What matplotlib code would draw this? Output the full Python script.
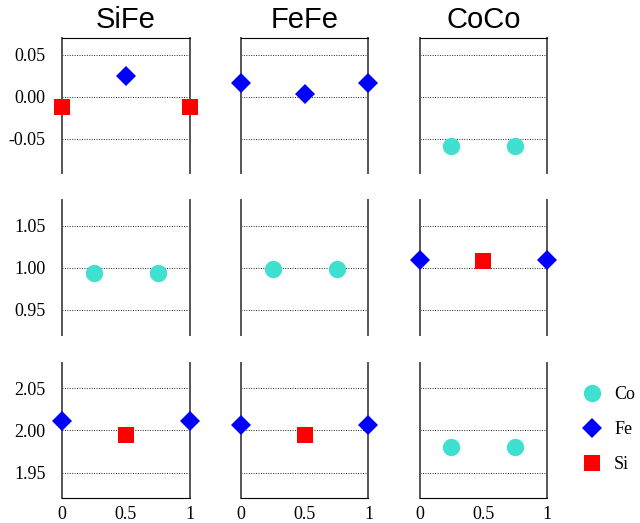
import numpy as np
import matplotlib
matplotlib.use("Agg")
import matplotlib.pyplot as plt

# positions along the x axis
x_ends = [0, 1]
x_mid = [0.5]
x_quarter = [0.25, 0.75]
x_all = [0, 0.5, 1]

titles = ["SiFe", "FeFe", "CoCo"]

# row 1
r1_sife_si = [-0.012, -0.012]
r1_sife_fe = [0.024]
r1_fefe_fe = [0.016, 0.003, 0.016]
r1_coco_co = [-0.058, -0.058]

# row 2
r2_sife_co = [0.994, 0.994]
r2_fefe_co = [0.999, 0.999]
r2_coco_fe = [1.009, 1.009]
r2_coco_si = [1.008]

# row 3
r3_sife_fe = [2.011, 2.011]
r3_sife_si = [1.995]
r3_fefe_fe = [2.007, 2.007]
r3_fefe_si = [1.995]
r3_coco_co = [1.980, 1.980]

row_ticks = [[-0.05, 0.0, 0.05], [0.95, 1.00, 1.05], [1.95, 2.00, 2.05]]
row_labels = [["-0.05", "0.00", "0.05"], ["0.95", "1.00", "1.05"], ["1.95", "2.00", "2.05"]]
row_lims = [(-0.09, 0.07), (0.92, 1.08), (1.92, 2.08)]

style = {
    "Co": dict(marker="o", color="#40E0D0", ms=12.5),
    "Fe": dict(marker="D", color="#0000FF", ms=10),
    "Si": dict(marker="s", color="#FF0000", ms=11),
}

panels = [
    [[("Si", x_ends, r1_sife_si), ("Fe", x_mid, r1_sife_fe)],
     [("Fe", x_all, r1_fefe_fe)],
     [("Co", x_quarter, r1_coco_co)]],
    [[("Co", x_quarter, r2_sife_co)],
     [("Co", x_quarter, r2_fefe_co)],
     [("Fe", x_ends, r2_coco_fe), ("Si", x_mid, r2_coco_si)]],
    [[("Fe", x_ends, r3_sife_fe), ("Si", x_mid, r3_sife_si)],
     [("Fe", x_ends, r3_fefe_fe), ("Si", x_mid, r3_fefe_si)],
     [("Co", x_quarter, r3_coco_co)]],
]

serif = "Liberation Serif"
sans = "Liberation Sans"

fig, axes = plt.subplots(3, 3, figsize=(6.4, 5.23), dpi=100)
fig.subplots_adjust(left=0.097, right=0.855, top=0.928, bottom=0.048,
                    wspace=0.4, hspace=0.205)

for r in range(3):
    for c in range(3):
        ax = axes[r, c]
        for sp, xs, ys in panels[r][c]:
            st = style[sp]
            ax.plot(xs, ys, linestyle="none", marker=st["marker"], color=st["color"],
                    markersize=st["ms"], markeredgewidth=0, clip_on=False, zorder=5)
        ax.set_xlim(0, 1)
        ax.set_ylim(*row_lims[r])
        ax.set_yticks(row_ticks[r])
        for y in row_ticks[r]:
            ax.axhline(y, color="#222222", lw=0.7, ls=(0, (1, 1.5)), zorder=1)
        ax.tick_params(length=0)
        if c == 0:
            ax.set_yticklabels(row_labels[r], fontfamily=serif, fontsize=13)
            ax.tick_params(axis="y", pad=12)
        else:
            ax.set_yticklabels([])
        if r == 2:
            ax.set_xticks([0, 0.5, 1])
            ax.set_xticklabels(["0", "0.5", "1"], fontfamily=serif, fontsize=13)
            ax.tick_params(axis="x", pad=6)
        else:
            ax.set_xticks([])
        for side in ["left", "right"]:
            ax.spines[side].set_color("#555555")
            ax.spines[side].set_linewidth(1.4)
        ax.spines["top"].set_visible(r == 0)
        ax.spines["bottom"].set_visible(r == 2)
        ax.spines["top"].set_color("black")
        ax.spines["bottom"].set_color("black")
        if r == 0:
            ax.set_title(titles[c], fontfamily=sans, fontsize=21, pad=7)

handles = []
for sp in ["Co", "Fe", "Si"]:
    st = style[sp]
    h, = axes[0, 0].plot([], [], linestyle="none", marker=st["marker"], color=st["color"],
                         markersize=st["ms"], markeredgewidth=0, label=sp)
    handles.append(h)

fig.legend(handles=handles, labels=["Co", "Fe", "Si"], loc="center left",
           bbox_to_anchor=(0.882, 0.178), frameon=False,
           prop={"family": serif, "size": 13}, labelspacing=1.0,
           handletextpad=0.65, handlelength=1.2)

fig.savefig("out.png", dpi=100)
